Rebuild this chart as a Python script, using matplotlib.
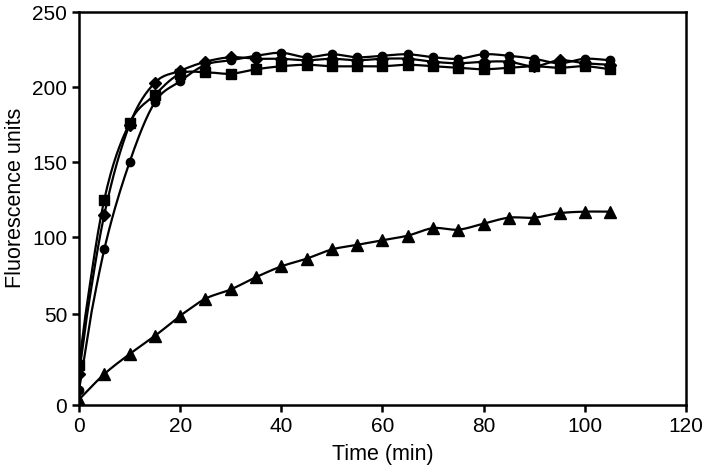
import numpy as np
import matplotlib
matplotlib.use("Agg")
import matplotlib.pyplot as plt

plt.rcParams["font.family"] = ["Liberation Sans", "DejaVu Sans"]

time_min = [0, 5, 10, 15, 20, 25, 30, 35, 40, 45, 50, 55, 60, 65, 70, 75, 80, 85, 90, 95, 100, 105]

squares = [22, 125, 176, 195, 209, 210, 209, 212, 214, 215, 214, 214, 214, 215, 214, 213, 212, 213, 214, 213, 214, 212]
diamonds = [17, 115, 175, 203, 211, 217, 220, 219, 219, 218, 219, 218, 219, 219, 217, 216, 217, 217, 214, 218, 216, 215]
circles = [8, 92, 150, 190, 204, 215, 218, 221, 223, 220, 222, 220, 221, 222, 220, 219, 222, 221, 219, 216, 219, 218]
triangles = [3, 17, 28, 38, 49, 60, 66, 74, 81, 86, 92, 95, 98, 101, 106, 105, 109, 113, 113, 116, 117, 117]

y_ticks = [0, 50, 100, 150, 200, 250]
x_ticks = [0, 20, 40, 60, 80, 100, 120]

# the y axis of the original is not evenly spaced (0-50 is stretched)
tick_span = [0, 91, 168, 243, 318, 393]


def fwd(v):
    return np.interp(v, y_ticks, tick_span)


def inv(p):
    return np.interp(p, tick_span, y_ticks)


def smooth(x, y, n=16):
    # Excel-style smoothed line (Catmull-Rom through the points)
    x = np.asarray(x, float)
    y = np.asarray(y, float)
    px = np.concatenate([[2 * x[0] - x[1]], x, [2 * x[-1] - x[-2]]])
    py = np.concatenate([[2 * y[0] - y[1]], y, [2 * y[-1] - y[-2]]])
    xs, ys = [], []
    t = np.linspace(0, 1, n, endpoint=False)
    for i in range(1, len(px) - 2):
        for arr, out in ((px, xs), (py, ys)):
            p0, p1, p2, p3 = arr[i - 1], arr[i], arr[i + 1], arr[i + 2]
            out.extend(0.5 * (2 * p1 + (-p0 + p2) * t
                              + (2 * p0 - 5 * p1 + 4 * p2 - p3) * t ** 2
                              + (-p0 + 3 * p1 - 3 * p2 + p3) * t ** 3))
    xs.append(x[-1])
    ys.append(y[-1])
    return xs, ys


fig = plt.figure(figsize=(7.04, 4.71), dpi=100)
ax = fig.add_axes([0.1122, 0.1401, 0.8622, 0.8338])
ax.set_yscale("function", functions=(fwd, inv))

series = [(squares, "s", 7), (diamonds, "D", 6), (circles, "o", 6), (triangles, "^", 9)]
for vals, mk, ms in series:
    sx, sy = smooth(time_min, vals)
    ax.plot(sx, sy, color="black", lw=1.6, zorder=2)
    ax.plot(time_min, vals, ls="none", marker=mk, ms=ms, color="black", zorder=3)

ax.set_xlim(0, 120)
ax.set_ylim(0, 250)
ax.set_xticks(x_ticks)
ax.set_yticks(y_ticks)
ax.tick_params(labelsize=15, width=1.8, length=5, direction="out")
for s in ax.spines.values():
    s.set_linewidth(1.8)

ax.set_xlabel("Time (min)", fontsize=15.5, labelpad=6)
ax.set_ylabel("Fluorescence units", fontsize=15.5)
ax.yaxis.set_label_coords(-0.088, 0.528)

fig.savefig("out.png", dpi=100)
